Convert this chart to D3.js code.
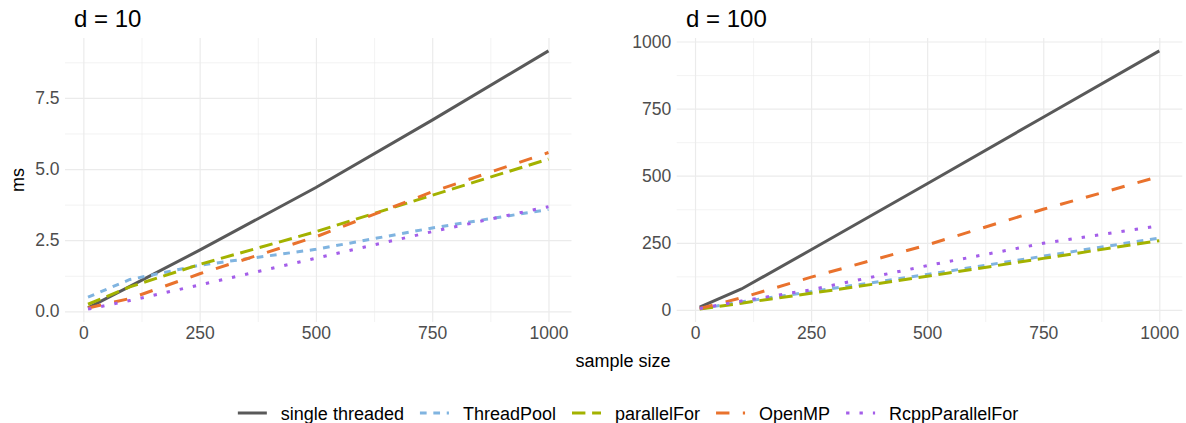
<!DOCTYPE html>
<html>
<head>
<meta charset="utf-8">
<script src="https://cdn.jsdelivr.net/npm/d3@7"></script>
<style>
  body { margin: 0; background: #fff; }
  svg { display: block; font-family: "Liberation Sans", Arial, sans-serif; }
  .tick text { fill: #4d4d4d; font-size: 17.5px; }
  .grid line { stroke: #ebebeb; }
  .grid path { display: none; }
</style>
</head>
<body>
<svg id="chart" width="1186" height="423"></svg>
<script>
// sample sizes on the x axis
const sampleSizes = [10, 100, 250, 500, 750, 1000];
const methods = ['single threaded', 'ThreadPool', 'parallelFor', 'OpenMP', 'RcppParallelFor'];

// d = 10, time in ms
const d10Single      = [0.12, 0.88, 2.15, 4.35, 6.72, 9.15];
const d10ThreadPool  = [0.50, 1.12, 1.62, 2.18, 2.93, 3.58];
const d10ParallelFor = [0.25, 0.86, 1.65, 2.80, 4.08, 5.35];
const d10OpenMP      = [0.12, 0.45, 1.32, 2.62, 4.20, 5.58];
const d10Rcpp        = [0.08, 0.38, 0.93, 1.87, 2.80, 3.68];

// d = 100, time in ms
const d100Single      = [10, 78, 224, 470, 718, 965];
const d100ThreadPool  = [4, 30, 68, 132, 200, 268];
const d100ParallelFor = [3, 25, 62, 125, 192, 258];
const d100OpenMP      = [5, 45, 122, 242, 375, 497];
const d100Rcpp        = [5, 33, 75, 165, 248, 313];

const xTicks = [0, 250, 500, 750, 1000];
const yTicksD10 = [0, 2.5, 5, 7.5];
const yTicksD100 = [0, 250, 500, 750, 1000];

// styles: colour and dash per method (ggplot linetypes solid, 22, 42, 44, 13)
const colors = ['#595959', '#80b4e0', '#a3b200', '#e9722d', '#a45ee9'];
const unit = 3.35;
const dashes = [null, [2, 2], [4, 2], [4, 4], [1, 3]].map(d => d ? d.map(v => v * unit).join(' ') : null);

let svg = d3.select('#chart');
let plotTop = 38, plotBottom = 322;

let panels = [
  { title: 'd = 10', x0: 65, x1: 571.5, titleX: 74, yTicks: yTicksD10, fmt: d3.format('.1f'),
    series: [d10Single, d10ThreadPool, d10ParallelFor, d10OpenMP, d10Rcpp] },
  { title: 'd = 100', x0: 676.7, x1: 1182.3, titleX: 686, yTicks: yTicksD100, fmt: d3.format('d'),
    series: [d100Single, d100ThreadPool, d100ParallelFor, d100OpenMP, d100Rcpp] }
];

// ggplot style 5% expansion
function expand(ext) {
  let pad = (ext[1] - ext[0]) * 0.05;
  return [ext[0] - pad, ext[1] + pad];
}

function midpoints(ticks, domain) {
  let step = ticks[1] - ticks[0];
  let out = [];
  for (let v = ticks[0] - step / 2; v <= domain[1]; v += step) {
    if (v >= domain[0]) out.push(v);
  }
  return out;
}

panels.forEach(p => {
  let x = d3.scaleLinear().domain(expand(d3.extent(sampleSizes))).range([p.x0, p.x1]);
  let y = d3.scaleLinear().domain(expand(d3.extent(p.series.flat()))).range([plotBottom, plotTop]);
  let w = p.x1 - p.x0, h = plotBottom - plotTop;

  // minor grid
  svg.append('g').attr('class', 'grid')
    .attr('transform', `translate(0,${plotBottom})`)
    .call(d3.axisBottom(x).tickValues(midpoints(xTicks, x.domain())).tickSize(-h).tickFormat(''))
    .selectAll('line').attr('stroke-width', 0.6);
  svg.append('g').attr('class', 'grid')
    .attr('transform', `translate(${p.x0},0)`)
    .call(d3.axisLeft(y).tickValues(midpoints(p.yTicks, y.domain())).tickSize(-w).tickFormat(''))
    .selectAll('line').attr('stroke-width', 0.6);

  // major grid
  svg.append('g').attr('class', 'grid')
    .attr('transform', `translate(0,${plotBottom})`)
    .call(d3.axisBottom(x).tickValues(xTicks).tickSize(-h).tickFormat(''))
    .selectAll('line').attr('stroke-width', 1.2);
  svg.append('g').attr('class', 'grid')
    .attr('transform', `translate(${p.x0},0)`)
    .call(d3.axisLeft(y).tickValues(p.yTicks).tickSize(-w).tickFormat(''))
    .selectAll('line').attr('stroke-width', 1.2);

  // tick labels
  svg.append('g')
    .attr('transform', `translate(0,${plotBottom})`)
    .call(d3.axisBottom(x).tickValues(xTicks).tickFormat(d3.format('d')).tickSize(0).tickPadding(5))
    .call(g => g.select('.domain').remove());
  svg.append('g')
    .attr('transform', `translate(${p.x0},0)`)
    .call(d3.axisLeft(y).tickValues(p.yTicks).tickFormat(p.fmt).tickSize(0).tickPadding(5.5))
    .call(g => g.select('.domain').remove());

  // lines
  let line = d3.line()
    .x((d, i) => x(sampleSizes[i]))
    .y(d => y(d));
  p.series.forEach((s, k) => {
    svg.append('path')
      .datum(s)
      .attr('d', line)
      .attr('fill', 'none')
      .attr('stroke', colors[k])
      .attr('stroke-width', 3)
      .attr('stroke-dasharray', dashes[k])
      .attr('stroke-linecap', 'butt');
  });

  // panel title
  svg.append('text')
    .attr('x', p.titleX)
    .attr('y', 27)
    .attr('font-size', 24)
    .attr('fill', '#000')
    .text(p.title);
});

// axis titles
svg.append('text')
  .attr('transform', `translate(24,${(plotTop + plotBottom) / 2}) rotate(-90)`)
  .attr('text-anchor', 'middle')
  .attr('font-size', 18)
  .text('ms');
svg.append('text')
  .attr('x', 623)
  .attr('y', 367)
  .attr('text-anchor', 'middle')
  .attr('font-size', 18)
  .text('sample size');

// legend
let legend = svg.append('g');
let cursor = 0;
methods.forEach((m, k) => {
  legend.append('line')
    .attr('x1', cursor).attr('x2', cursor + 29)
    .attr('y1', 0).attr('y2', 0)
    .attr('stroke', colors[k])
    .attr('stroke-width', 3)
    .attr('stroke-dasharray', dashes[k]);
  let t = legend.append('text')
    .attr('x', cursor + 43)
    .attr('y', 6.5)
    .attr('font-size', 18)
    .text(m);
  cursor += 43 + t.node().getComputedTextLength() + 16;
});
let legendW = cursor - 16;
legend.attr('transform', `translate(${628 - legendW / 2},413)`);
</script>
</body>
</html>
